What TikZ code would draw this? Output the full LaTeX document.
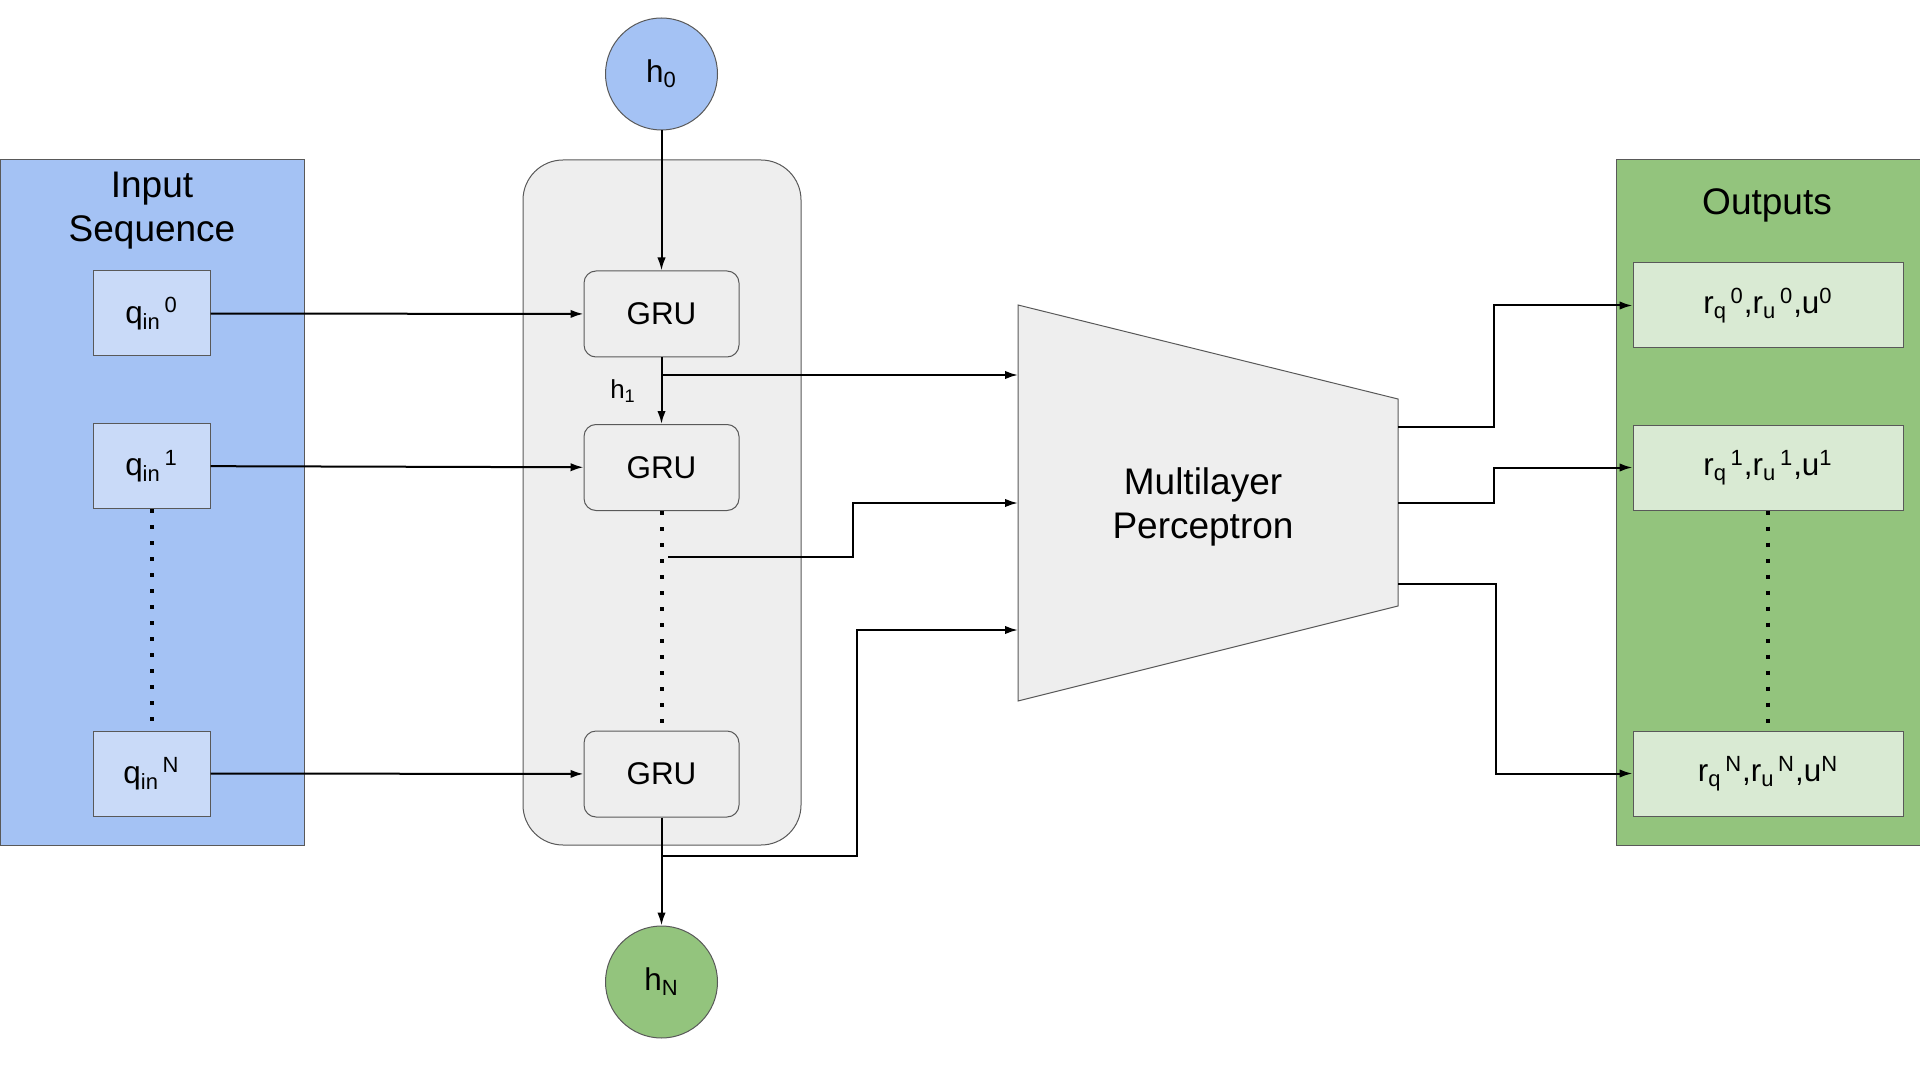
\documentclass[tikz,border=0pt]{standalone}
\usepackage{fontspec}
\setmainfont{Liberation Sans}
\usetikzlibrary{arrows.meta}

\definecolor{inblue}{HTML}{A4C2F4}
\definecolor{boxblue}{HTML}{C9DAF8}
\definecolor{outgreen}{HTML}{93C47D}
\definecolor{boxgreen}{HTML}{D9EAD3}
\definecolor{cellgrey}{HTML}{EEEEEE}
\definecolor{edgegrey}{HTML}{595959}

\begin{document}
\begin{tikzpicture}[x=0.5pt,y=-0.5pt,->,>={Latex[length=6.5pt,width=4.2pt]},line width=1pt,
main node/.style={font=\fontsize{15.7}{18}\selectfont,draw=edgegrey,line width=0.5pt,inner sep=0pt},
title node/.style={font=\fontsize{18.5}{22}\selectfont,align=center},
panel node/.style={draw=edgegrey,line width=0.5pt,minimum width=152pt,minimum height=342.5pt},
seq node/.style={main node,fill=boxblue,minimum width=58.5pt,minimum height=42.5pt},
gru node/.style={main node,fill=cellgrey,rounded corners=6pt,minimum width=77.5pt,minimum height=43pt},
out node/.style={main node,fill=boxgreen,minimum width=135pt,minimum height=42.5pt},
state node/.style={main node,circle,minimum size=56pt},
dots/.style={-,line width=2pt,dash pattern=on 2pt off 6pt}]

\useasboundingbox (0,0) rectangle (1920,1080);

% panels
\node[panel node,fill=inblue] (inpanel) at (152,502.5) {};
\node[panel node,fill=cellgrey,minimum width=139pt,rounded corners=20pt] (cell) at (662,502.5) {};
\node[panel node,fill=outgreen] (outpanel) at (1768,502.5) {};
\node[title node] (intitle) at (152,211) {Input\\Sequence};
\node[title node] (outtitle) at (1767,205) {Outputs};

% input sequence
\node[seq node] (q0) at (151.5,313.5) {q\textsubscript{in}\textsuperscript{\,0}};
\node[seq node] (q1) [below of=q0,node distance=76.25pt] {q\textsubscript{in}\textsuperscript{\,1}};
\node[seq node] (qN) [below of=q1,node distance=153.75pt] {q\textsubscript{in}\textsuperscript{\,N}};

% recurrent cells
\node[gru node] (gru1) at (661.5,314) {GRU};
\node[gru node] (gru2) [below of=gru1,node distance=76.75pt] {GRU};
\node[gru node] (gru3) [below of=gru2,node distance=153.25pt] {GRU};
\node[state node,fill=inblue] (h0) [above of=gru1,node distance=120pt] {h\textsubscript{0}};
\node[state node,fill=outgreen] (hN) [below of=gru3,node distance=104pt] {h\textsubscript{N}};

% mlp
\draw[-,fill=cellgrey,draw=edgegrey,line width=0.5pt] (1018,305) -- (1398,399) -- (1398,606) -- (1018,701) -- cycle;
\node[title node] (mlp) at (1203,507) {Multilayer\\Perceptron};
\coordinate (mlpin1) at (1018,375);
\coordinate (mlpin2) at (1018,503);
\coordinate (mlpin3) at (1018,630);
\coordinate (mlpout1) at (1398,427);
\coordinate (mlpout2) at (1398,503);
\coordinate (mlpout3) at (1398,584);

% outputs
\node[out node] (out0) at (1768,305.5) {r\textsubscript{q}\textsuperscript{\,0},r\textsubscript{u}\textsuperscript{\,0},u\textsuperscript{0}};
\node[out node] (out1) [below of=out0,node distance=81pt] {r\textsubscript{q}\textsuperscript{\,1},r\textsubscript{u}\textsuperscript{\,1},u\textsuperscript{1}};
\node[out node] (outN) [below of=out1,node distance=153pt] {r\textsubscript{q}\textsuperscript{\,N},r\textsubscript{u}\textsuperscript{\,N},u\textsuperscript{N}};

\draw[dots] (q1) -- (qN);
\draw[dots] (gru2) -- (gru3);
\draw[dots] (out1) -- (outN);

\path
(h0) edge (gru1)
(gru1) edge node[left=9pt,font=\fontsize{13}{16}\selectfont] {h\textsubscript{1}} (gru2)
(q0) edge (gru1)
(q1) edge (gru2)
(qN) edge (gru3)
(gru3) edge (hN)
;

% taps into the mlp
\coordinate (h1tap) at (661.5,375);
\coordinate (midtap) at (668,557);
\coordinate (hNtap) at (661.5,856);
\draw (h1tap) -- (mlpin1);
\draw (midtap) -- ++(185,0) |- (mlpin2);
\draw (hNtap) -- ++(195,0) |- (mlpin3);

\draw (mlpout1) -- ++(96,0) |- (out0.west);
\draw (mlpout2) -- ++(96,0) |- (out1.west);
\draw (mlpout3) -- ++(98,0) |- (outN.west);
\end{tikzpicture}
\end{document}
